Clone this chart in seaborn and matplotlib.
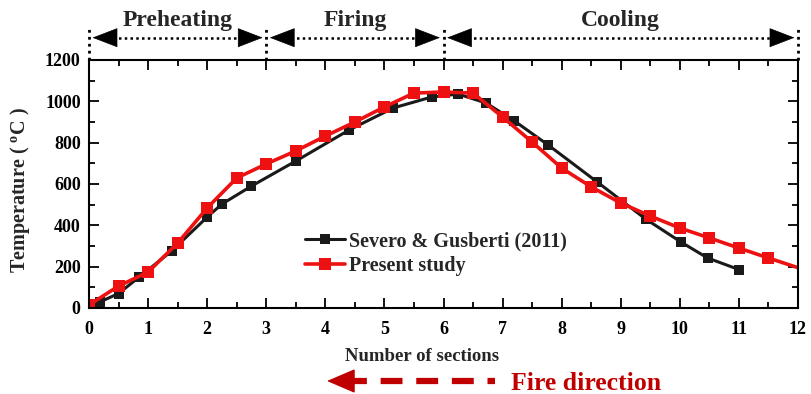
import matplotlib
matplotlib.use("Agg")
import matplotlib.pyplot as plt
import matplotlib.transforms as mtransforms
from matplotlib.ticker import MultipleLocator
import pandas as pd
import seaborn as sns

# Kiln temperature profile along the sections
severo_x = [0, 0.19, 0.5, 0.85, 1.4, 2.0, 2.25, 2.75, 3.5, 4.4, 5.15, 5.8,
            6.25, 6.72, 7.2, 7.77, 8.6, 9.42, 10.02, 10.47, 11.0]
severo_t = [5, 30, 70, 150, 276, 440, 503, 590, 711, 861, 968, 1021,
            1035, 992, 905, 789, 610, 431, 319, 242, 186]

present_x = [0, 0.5, 1, 1.5, 2, 2.5, 3, 3.5, 4, 4.5, 5, 5.5, 6, 6.5, 7, 7.5,
             8, 8.5, 9, 9.5, 10, 10.5, 11, 11.5, 12]
present_t = [15, 106, 174, 314, 484, 629, 697, 760, 832, 900, 973, 1040,
             1045, 1040, 924, 803, 677, 586, 508, 445, 387, 339, 290, 242, 195]

zones = ["Preheating", "Firing", "Cooling"]
zone_edges = [0, 3, 6, 12]

x_ticks = list(range(0, 13))
y_ticks = list(range(0, 1201, 200))

sns.set_theme(style="ticks")
plt.rcParams["font.family"] = ["Liberation Serif", "DejaVu Serif"]
plt.rcParams["font.weight"] = "bold"
plt.rcParams["mathtext.fontset"] = "custom"
plt.rcParams["mathtext.bf"] = "Liberation Serif:bold"
plt.rcParams["mathtext.rm"] = "Liberation Serif:bold"

fig = plt.figure(figsize=(8.11, 3.94), dpi=100)
ax = fig.add_axes([89 / 811, 1 - 308 / 394, 709 / 811, 248 / 394])

df_s = pd.DataFrame({"x": severo_x, "t": severo_t})
df_p = pd.DataFrame({"x": present_x, "t": present_t})

sns.lineplot(data=df_s, x="x", y="t", ax=ax, color="#1a1a1a", lw=2.2,
             marker="s", markersize=6.5, markeredgewidth=0, sort=False,
             estimator=None, label="Severo & Gusberti (2011)",
             markevery=list(range(1, len(severo_x))))
sns.lineplot(data=df_p, x="x", y="t", ax=ax, color="#ee1111", lw=2.6,
             marker="s", markersize=8, markeredgewidth=0, sort=False,
             estimator=None, label="Present study",
             markevery=list(range(0, len(present_x) - 1)))

ax.set_xlim(0, 12)
ax.set_ylim(0, 1200)
ax.set_xticks(x_ticks)
ax.set_yticks(y_ticks)
ax.xaxis.set_minor_locator(MultipleLocator(0.5))
ax.yaxis.set_minor_locator(MultipleLocator(100))
ax.tick_params(which="both", direction="in", top=True, right=True,
               width=1.3, colors="black", labelsize=13)
ax.tick_params(which="major", length=7)
ax.tick_params(which="minor", length=4)
ax.tick_params(axis="x", pad=9)
ax.tick_params(axis="y", pad=6)
for lab in ax.get_xticklabels() + ax.get_yticklabels():
    lab.set_fontweight("bold")
for sp in ax.spines.values():
    sp.set_linewidth(1.5)
    sp.set_color("black")

ax.set_xlabel("Number of sections", fontsize=13.5, fontweight="bold")
ax.xaxis.set_label_coords(0.47, -0.16)
ax.set_ylabel("Temperature ( $\\mathbf{^{o}}$C )", fontsize=14.5,
              fontweight="bold")
ax.yaxis.set_label_coords(-0.08, 0.475)

leg = ax.legend(loc="upper left", bbox_to_anchor=(0.29, 0.35),
                frameon=False, handlelength=2.0,
                handletextpad=0.2, borderpad=0, labelspacing=0.25,
                prop={"weight": "bold", "size": 14.5})

# Zone annotations above the plot
trans = mtransforms.blended_transform_factory(ax.transData, ax.transAxes)
for xe in zone_edges:
    ax.plot([xe, xe], [1.0, 1.125], transform=trans, clip_on=False,
            color="black", lw=2, ls=(0, (1, 1.5)))
for name, x0, x1 in zip(zones, zone_edges[:-1], zone_edges[1:]):
    a, b = x0 + 0.06, x1 - 0.06
    ax.plot([a + 0.25, b - 0.25], [1.09, 1.09], transform=trans, clip_on=False,
            color="black", lw=1.8, ls=(0, (1, 1.3)))
    for tip, tail in ((a, a + 0.35), (b, b - 0.35)):
        ax.annotate("", xy=(tip, 1.09), xytext=(tail, 1.09),
                    xycoords=trans, textcoords=trans,
                    arrowprops=dict(arrowstyle="-|>,head_length=1.3,head_width=0.5",
                                    color="black", lw=0.5, mutation_scale=13,
                                    shrinkA=0, shrinkB=0))
    ax.text((x0 + x1) / 2, 1.16, name, transform=trans, ha="center",
            va="center", fontsize=17, fontweight="bold")

# Fire direction indicator
red = "#c00000"
y_arrow = 1 - 381 / 394
fig.add_artist(plt.Line2D([345 / 811, 495 / 811], [y_arrow, y_arrow],
                          transform=fig.transFigure, color=red, lw=4.5,
                          ls=(0, (3.5, 2.2))))
fig.add_artist(matplotlib.patches.FancyArrowPatch(
    (352 / 811, y_arrow), (327 / 811, y_arrow), transform=fig.transFigure,
    arrowstyle="-|>,head_length=1.4,head_width=0.6", mutation_scale=13,
    color=red, lw=1, shrinkA=0, shrinkB=0))
fig.text(511 / 811, 1 - 384 / 394, "Fire direction", color=red, fontsize=18.5,
         fontweight="bold", va="center", ha="left")

fig.savefig("out.png", dpi=100)
